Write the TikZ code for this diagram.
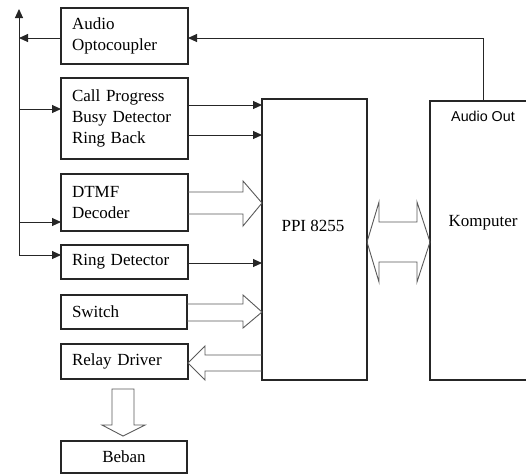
\documentclass[tikz,border=0pt]{standalone}
\usepackage{fontspec}
\setmainfont{Liberation Serif}
\newfontfamily\sansf{Liberation Sans}
\usetikzlibrary{arrows.meta,calc}
\begin{document}
\begin{tikzpicture}[x=1pt,y=-1pt,
  box/.style={draw=black!85,line width=1.1pt,inner ysep=0pt,inner xsep=11pt,outer sep=0pt,
    anchor=north west,font=\fontsize{17}{21}\selectfont},
  lbox/.style={box,align=left,text width=#1-22pt},
  cbox/.style={box,align=center,minimum width=#1},
  arr/.style={draw=black!85,line width=1pt,-{Triangle[length=9pt,width=8pt]}},
  fat/.style={draw=black!65,line width=0.9pt,line join=miter},
  lbl/.style={font=\fontsize{17}{21}\selectfont,inner sep=0pt},
]
\useasboundingbox (0,0) rectangle (526,474);
% boxes
\node[lbox=127pt,minimum height=56pt] (opto) at (61,8) {Audio\\Optocoupler};
\node[lbox=127pt,minimum height=81pt] (cp) at (61,78) {Call Progress\\Busy Detector\\Ring Back};
\node[lbox=127pt,minimum height=57pt] (dtmf) at (61,174) {DTMF\\Decoder};
\node[lbox=127pt,minimum height=34pt] (ring) at (61,245) {Ring Detector};
\node[lbox=126pt,minimum height=34pt] (switch) at (61,295) {Switch};
\node[lbox=127pt,minimum height=35pt] (relay) at (61,344) {Relay Driver};
\node[cbox=126pt,minimum height=32pt] (beban) at (61,441) {Beban};
\node[box,minimum width=105pt,minimum height=281pt] (ppi) at (262,99) {};
\node[box,minimum width=106pt,minimum height=279pt] (komp) at (430,101) {};
\node[lbl] (ppit) at (313,226) {PPI 8255};
\node[lbl] (kompt) at (483,223) {Komputer};
\node[inner sep=0pt,font=\sansf\fontsize{14.3}{16}\selectfont] (aout) at (483,116) {Audio Out};
% bus
\coordinate (bustop) at (19,9);
\coordinate (busbot) at (19,255);
\draw[arr] (busbot) -- (bustop);
\draw[arr] ([yshift=-2pt]opto.west) -- ([yshift=-2pt]opto.west -| bustop);
\draw[arr] (bustop |- 0,109) -- (cp.west |- 0,109);
\draw[arr] (bustop |- 0,222) -- (dtmf.west |- 0,222);
\draw[arr] (busbot) -- (busbot -| ring.west);
% audio out
\draw[arr] (komp.north) |- ([yshift=-2pt]opto.east);
% thin arrows to PPI
\draw[arr] (cp.east |- 0,105) -- (ppi.west |- 0,105);
\draw[arr] (cp.east |- 0,135) -- (ppi.west |- 0,135);
\draw[arr] (ring.east |- 0,263) -- (ppi.west |- 0,263);
% fat arrows
\draw[fat] (dtmf.east |- 0,192) -- (243,192) -- (243,181) -- (ppi.west |- 0,203)
  -- (243,226) -- (243,214) -- (dtmf.east |- 0,214);
\draw[fat] (switch.east |- 0,304) -- (243,304) -- (243,295) -- (ppi.west |- 0,312)
  -- (243,328) -- (243,321) -- (switch.east |- 0,321);
\draw[fat] (ppi.west |- 0,355) -- (205,355) -- (205,346) -- (relay.east |- 0,363)
  -- (205,380) -- (205,371) -- (ppi.west |- 0,371);
\draw[fat] (112,389) -- (134,389) -- (134,425) -- (145,425) -- (123,436)
  -- (102,425) -- (112,425) -- cycle;
\draw[fat] (ppi.east |- 0,242) -- (379,202) -- (379,222) -- (417,222) -- (417,202)
  -- (komp.west |- 0,242) -- (417,282) -- (417,262) -- (379,262) -- (379,282) -- cycle;
\end{tikzpicture}
\end{document}
